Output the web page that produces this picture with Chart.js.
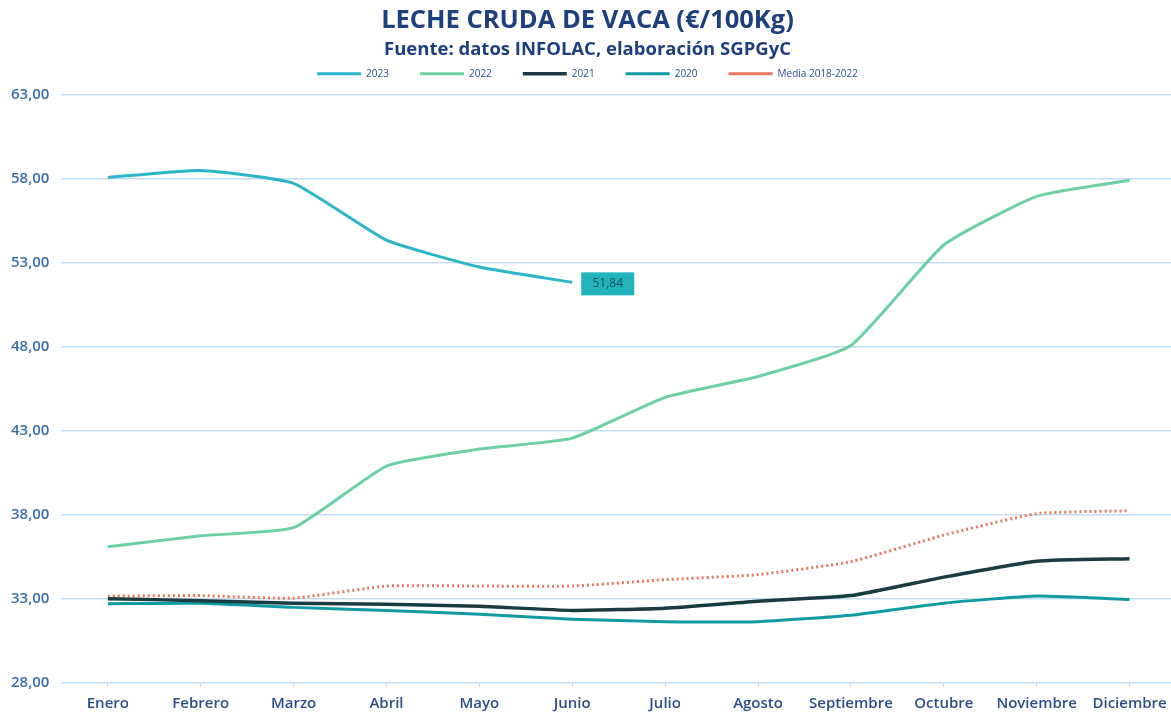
<!DOCTYPE html>
<html>
<head>
<meta charset="utf-8">
<script src="https://cdn.jsdelivr.net/npm/chart.js@4/dist/chart.umd.min.js"></script>
<style>
  html, body { margin: 0; padding: 0; background: #fff; overflow: hidden; }
  #wrap { width: 1171px; height: 715px; overflow: hidden; }
</style>
</head>
<body>
<div id="wrap"><canvas id="milkChart" width="1176" height="715"></canvas></div>
<script>
const months = ['Enero', 'Febrero', 'Marzo', 'Abril', 'Mayo', 'Junio', 'Julio', 'Agosto', 'Septiembre', 'Octubre', 'Noviembre', 'Diciembre'];
const y2023 = [58.08, 58.50, 57.73, 54.35, 52.75, 51.84, null, null, null, null, null, null];
const y2022 = [36.11, 36.76, 37.24, 40.91, 41.92, 42.57, 45.00, 46.24, 48.08, 54.06, 56.96, 57.91];
const y2021 = [33.02, 32.90, 32.74, 32.68, 32.56, 32.32, 32.45, 32.87, 33.20, 34.30, 35.25, 35.40];
const y2020 = [32.72, 32.74, 32.50, 32.32, 32.09, 31.80, 31.65, 31.65, 32.03, 32.75, 33.18, 32.97];
const media = [33.17, 33.20, 33.05, 33.77, 33.77, 33.77, 34.15, 34.45, 35.22, 36.80, 38.08, 38.25];
const yTicks = { min: 28, max: 63, step: 5 };
const labelIndex = 5; // last 2023 value gets a label

const fmt = v => v.toFixed(2).replace('.', ',');

// draws the boxed value label next to the last 2023 point
const lastValueLabel = {
    id: 'lastValueLabel',
    afterDatasetsDraw(chart) {
        const pt = chart.getDatasetMeta(0).data[labelIndex];
        if (!pt) return;
        const ctx = chart.ctx;
        ctx.save();
        ctx.fillStyle = '#22b4bb';
        ctx.fillRect(pt.x + 9, pt.y - 10, 53, 23);
        ctx.fillStyle = '#1b4f5c';
        ctx.font = '12px "Open Sans"';
        ctx.textAlign = 'center';
        ctx.textBaseline = 'middle';
        ctx.fillText(fmt(y2023[labelIndex]), pt.x + 35.5, pt.y + 1.5);
        ctx.restore();
    }
};

const line = (label, data, color, width, dash) => ({
    label, data,
    borderColor: color,
    backgroundColor: color,
    borderWidth: width,
    borderDash: dash || [],
    pointRadius: 0,
    tension: 0.15,
    fill: false
});

new Chart(document.getElementById('milkChart'), {
    type: 'line',
    data: {
        labels: months,
        datasets: [
            line('2023', y2023, '#2bb6c8', 3),
            line('2022', y2022, '#6ccfa6', 3),
            line('2021', y2021, '#183c40', 3.5),
            line('2020', y2020, '#0f9ba0', 3),
            line('Media 2018-2022', media, '#e8775f', 3, [2, 3])
        ]
    },
    options: {
        responsive: false,
        animation: false,
        layout: { padding: { left: -1, right: 0, top: 0, bottom: -7 } },
        plugins: {
            title: {
                display: true,
                text: 'LECHE CRUDA DE VACA (€/100Kg)',
                color: '#1d3f7d',
                font: { family: 'Open Sans', size: 25.5, weight: 'bold' },
                padding: { top: 5, bottom: 3 }
            },
            subtitle: {
                display: true,
                text: 'Fuente: datos INFOLAC, elaboración SGPGyC',
                color: '#1d3f7d',
                font: { family: 'Open Sans', size: 18.5, weight: 'bold' },
                padding: { top: 0, bottom: -23 }
            },
            legend: {
                labels: {
                    usePointStyle: true,
                    pointStyle: 'line',
                    pointStyleWidth: 44,
                    color: '#2b4f8a',
                    font: { family: 'Open Sans', size: 10 },
                    padding: 31
                }
            },
            tooltip: { enabled: false }
        },
        scales: {
            x: {
                offset: true,
                grid: { display: true, drawOnChartArea: false, color: '#c5ddf1', tickLength: 5 },
                border: { color: '#c5ddf1' },
                ticks: { color: '#2b4f8a', font: { family: 'Open Sans', size: 15, weight: '600' }, padding: 8, maxRotation: 0 }
            },
            // empty top axis, only used as a spacer under the legend
            xTop: {
                position: 'top',
                grid: { display: false },
                border: { display: false },
                ticks: { display: false },
                title: { display: true, text: ' ', font: { size: 1 }, padding: { top: 0, bottom: -4 } }
            },
            y: {
                min: yTicks.min,
                max: yTicks.max,
                grid: { color: '#c5ddf1', lineWidth: 1.5, drawTicks: false },
                border: { display: false },
                ticks: {
                    stepSize: yTicks.step,
                    color: '#3a6fae',
                    font: { family: 'Open Sans', size: 15, weight: '600' },
                    padding: 12,
                    callback: v => fmt(v)
                }
            }
        }
    },
    plugins: [lastValueLabel]
});
</script>
</body>
</html>
